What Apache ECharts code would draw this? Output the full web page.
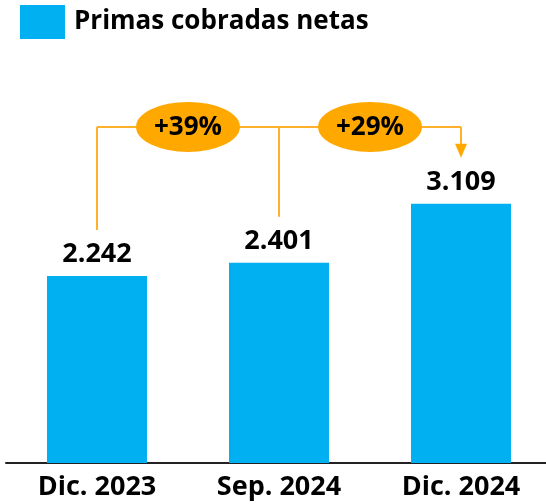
<!DOCTYPE html>
<html>
<head>
<meta charset="utf-8">
<script src="https://cdn.jsdelivr.net/npm/echarts@6/dist/echarts.min.js"></script>
<style>
html,body{margin:0;padding:0;background:#fff;}
#c{width:546px;height:504px;}
</style>
</head>
<body>
<div id="c"></div>
<script>
var categories = ['Dic. 2023', 'Sep. 2024', 'Dic. 2024'];
var seriesName = 'Primas cobradas netas';
var values = [2242, 2401, 3109];
var growthLabels = ['+39%', '+29%'];
var growthFrom = [0, 1];
var growthTo = 2;

var FONT = '"Open Sans", "DejaVu Sans", sans-serif';
var BAR = '#00B0F0';
var ORANGE = '#FFA900';
var LINE = '#FFB12B';
var BRACKET_VALUE = 4030;

function fmt(v) { return String(v).replace(/\B(?=(\d{3})+(?!\d))/g, '.'); }

var chart = echarts.init(document.getElementById('c'), null, {renderer: 'canvas'});

var bracketData = growthFrom.map(function (f, i) { return [f, growthTo, i]; });

var option = {
  animation: false,
  backgroundColor: '#fff',
  legend: {
    data: [{name: seriesName, icon: 'rect'}],
    left: 20, top: 5, padding: 0,
    itemWidth: 45, itemHeight: 34,
    textStyle: {fontFamily: FONT, fontWeight: 'bold', fontSize: 26, color: '#000', padding: [0, 0, 0, 4]}
  },
  grid: {left: 6, width: 546, top: 46, bottom: 41, containLabel: false, outerBoundsMode: 'none'},
  xAxis: {
    type: 'category',
    data: categories,
    axisTick: {show: false},
    axisLine: {lineStyle: {color: '#222', width: 2}},
    axisLabel: {fontFamily: FONT, fontWeight: 'bold', fontSize: 27, color: '#000', margin: 11}
  },
  yAxis: {type: 'value', min: 0, max: 5000, show: false, splitLine: {show: false}},
  series: [
    {
      name: seriesName,
      type: 'bar',
      data: values,
      barWidth: 100,
      itemStyle: {color: BAR},
      label: {
        show: true, position: 'top', distance: 8,
        fontFamily: FONT, fontWeight: 'bold', fontSize: 27, color: '#000',
        formatter: function (p) { return fmt(p.value); }
      }
    },
    {
      type: 'custom',
      silent: true,
      data: bracketData,
      z: 5,
      renderItem: function (params, api) {
        var from = api.value(0), to = api.value(1), idx = api.value(2);
        var pFrom = api.coord([from, values[from]]);
        var pTo = api.coord([to, values[to]]);
        var top = api.coord([from, BRACKET_VALUE])[1];
        var pNext = api.coord([from + 1, values[from + 1]]);
        var gap = 46;
        var children = [
          {type: 'line', shape: {x1: pFrom[0], y1: pFrom[1] - gap, x2: pFrom[0], y2: top}, style: {stroke: LINE, lineWidth: 2}},
          {type: 'line', shape: {x1: pFrom[0], y1: top, x2: pTo[0], y2: top}, style: {stroke: LINE, lineWidth: 2}}
        ];
        if (idx === growthFrom.length - 1) {
          var tipY = pTo[1] - gap;
          children.push({type: 'line', shape: {x1: pTo[0], y1: top, x2: pTo[0], y2: tipY - 12}, style: {stroke: LINE, lineWidth: 2}});
          children.push({type: 'polygon', shape: {points: [[pTo[0] - 6, tipY - 14], [pTo[0] + 6, tipY - 14], [pTo[0], tipY]]}, style: {fill: ORANGE}});
        }
        var cx = (pFrom[0] + pNext[0]) / 2;
        children.push({type: 'circle', x: cx, y: top, scaleY: 25 / 52, shape: {cx: 0, cy: 0, r: 52}, style: {fill: ORANGE}});
        children.push({type: 'text', x: cx, y: top + 1, style: {text: growthLabels[idx], align: 'center', verticalAlign: 'middle', fontFamily: FONT, fontWeight: 'bold', fontSize: 26, fill: '#000'}});
        return {type: 'group', children: children};
      }
    }
  ]
};
chart.setOption(option);
</script>
</body>
</html>
